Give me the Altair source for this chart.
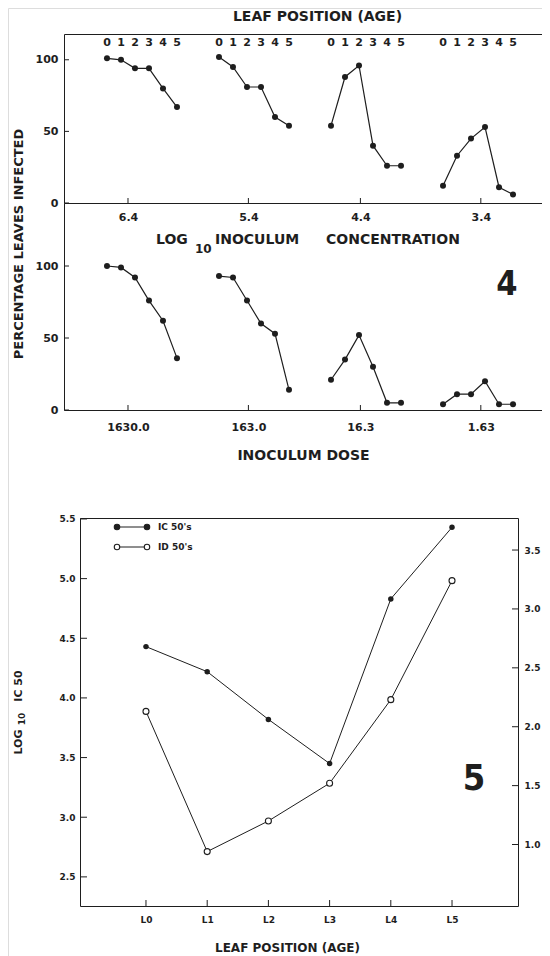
import json
import altair as alt
import pandas as pd

# ---------------- data ----------------
leaf = [0, 1, 2, 3, 4, 5]
conc_labels = ["6.4", "5.4", "4.4", "3.4"]
dose_labels = ["1630.0", "163.0", "16.3", "1.63"]
group_tick_pos = [1.5, 10.1, 18.1, 26.7]   # tick values on the leaf-slot axis
pct_ticks = [0, 50, 100]

# percentage leaves infected, per log10 inoculum concentration (rows) and leaf 0..5
pct_conc = [
    [101, 100, 94, 94, 80, 67],
    [102, 95, 81, 81, 60, 54],
    [54, 88, 96, 40, 26, 26],
    [12, 33, 45, 53, 11, 6],
]
# percentage leaves infected, per inoculum dose
pct_dose = [
    [100, 99, 92, 76, 62, 36],
    [93, 92, 76, 60, 53, 14],
    [21, 35, 52, 30, 5, 5],
    [4, 11, 11, 20, 4, 4],
]

age_labels = ["L0", "L1", "L2", "L3", "L4", "L5"]
ic50 = [4.43, 4.22, 3.82, 3.45, 4.83, 5.43]
id50 = [2.13, 0.94, 1.20, 1.52, 2.23, 3.24]
left_ticks = [2.5, 3.0, 3.5, 4.0, 4.5, 5.0, 5.5]
right_ticks = [1.0, 1.5, 2.0, 2.5, 3.0, 3.5]
legend_names = ["IC 50's", "ID 50's"]

# ---------------- layout ----------------
W, H = 534, 948
FONT = "DejaVu Sans"
INK = "#1e1e1e"
SLOTS = 8


def sc(domain, rng):
    return alt.Scale(domain=domain, range=rng, nice=False, zero=False)


def ax(**kw):
    base = dict(grid=False, ticks=False, domainColor=INK, domainWidth=1,
                labelFont=FONT, labelFontWeight="bold", labelColor=INK,
                titleFont=FONT, titleFontWeight="bold", titleColor=INK)
    base.update(kw)
    return alt.Axis(**base)


def panel_df(values, labels):
    rows = []
    for g, (lab, vals) in enumerate(zip(labels, values)):
        for i, v in zip(leaf, vals):
            rows.append({"group": lab, "g": g, "leaf": i, "pos": g * SLOTS + i, "pct": v})
    return pd.DataFrame(rows)


one = pd.DataFrame({"k": [0]})


def note(text, x, y, size, align="center", angle=0, font=FONT):
    return alt.Chart(one).mark_text(
        text=text, fontSize=size, font=font, fontWeight="bold", color=INK,
        align=align, baseline="middle", angle=angle
    ).encode(x=alt.value(x), y=alt.value(y))


# Figure 4 scales
X4 = sc([-3.07, 31.07], [56, W])
Y4T = sc([0, 118], [195, 26])
Y4B = sc([0, 143.75], [402, 195])

conc_df = panel_df(pct_conc, conc_labels)
dose_df = panel_df(pct_dose, dose_labels)
conc_expr = f"{json.dumps(conc_labels)}[indexof({json.dumps(group_tick_pos)}, datum.value)]"
dose_expr = f"{json.dumps(dose_labels)}[indexof({json.dumps(group_tick_pos)}, datum.value)]"

layers = []

# ---- Fig 4 top panel ----
layers.append(alt.Chart(conc_df).mark_line(color=INK, strokeWidth=1.2).encode(
    x=alt.X("pos:Q", scale=X4, axis=ax(orient="bottom", offset=-(H - 195), values=group_tick_pos,
                                       labelExpr=conc_expr, labelFontSize=11, labelPadding=8, title=None)),
    y=alt.Y("pct:Q", scale=Y4T, axis=ax(orient="left", offset=-56, values=pct_ticks, labelFontSize=11,
                                        labelPadding=6, title="PERCENTAGE LEAVES INFECTED", titleFontSize=13,
                                        titleX=-46, titleY=235.5, titleAngle=270, titleBaseline="middle",
                                        titleAlign="center")),
    detail="group:N",
))
layers.append(alt.Chart(conc_df).mark_circle(color=INK, size=36, opacity=1).encode(
    x=alt.X("pos:Q", scale=X4, axis=ax(orient="top", offset=-26, labels=False, title="LEAF POSITION (AGE)",
                                       titleFontSize=14, titleX=309, titleY=-18, titleBaseline="middle",
                                       titleAlign="center")),
    y=alt.Y("pct:Q", scale=Y4T, axis=None),
))
layers.append(alt.Chart(conc_df).mark_text(font=FONT, fontWeight="bold", fontSize=11, color=INK,
                                           baseline="middle").encode(
    x=alt.X("pos:Q", scale=X4, axis=None),
    y=alt.value(35),
    text="leaf:N",
))
tick_df = pd.DataFrame({"t": group_tick_pos})
layers.append(alt.Chart(tick_df).mark_rule(color=INK, strokeWidth=1).encode(
    x=alt.X("t:Q", scale=X4, axis=None), y=alt.value(195), y2=alt.value(190)))
layers.append(alt.Chart(tick_df).mark_rule(color=INK, strokeWidth=1).encode(
    x=alt.X("t:Q", scale=X4, axis=None), y=alt.value(402), y2=alt.value(397)))
pt_df = pd.DataFrame({"v": pct_ticks})
layers.append(alt.Chart(pt_df).mark_rule(color=INK, strokeWidth=1).encode(
    y=alt.Y("v:Q", scale=Y4T, axis=None), x=alt.value(56), x2=alt.value(61)))
layers.append(alt.Chart(pt_df).mark_rule(color=INK, strokeWidth=1).encode(
    y=alt.Y("v:Q", scale=Y4B, axis=None), x=alt.value(56), x2=alt.value(61)))

# ---- Fig 4 bottom panel ----
layers.append(alt.Chart(dose_df).mark_line(color=INK, strokeWidth=1.2).encode(
    x=alt.X("pos:Q", scale=X4, axis=ax(orient="bottom", offset=-(H - 402), values=group_tick_pos,
                                       labelExpr=dose_expr, labelFontSize=11, labelPadding=11,
                                       title="INOCULUM DOSE", titleFontSize=14, titleX=295, titleY=45,
                                       titleBaseline="middle", titleAlign="center")),
    y=alt.Y("pct:Q", scale=Y4B, axis=ax(orient="left", offset=-56, values=pct_ticks, labelFontSize=11,
                                        labelPadding=6, title=None)),
    detail="group:N",
))
layers.append(alt.Chart(dose_df).mark_circle(color=INK, size=36, opacity=1).encode(
    x=alt.X("pos:Q", scale=X4, axis=None),
    y=alt.Y("pct:Q", scale=Y4B, axis=None),
))

# middle title with subscript
layers.append(note("LOG", 148, 232, 14, align="left"))
layers.append(note("10", 187, 241, 12, align="left"))
layers.append(note("INOCULUM", 207, 232, 14, align="left"))
layers.append(note("CONCENTRATION", 318, 232, 14, align="left"))
layers.append(note("4", 499, 277, 34, font="DejaVu Sans Condensed, DejaVu Sans"))

# ---- Fig 5 ----
X5 = sc([-1.078, 6.078], [72, 510])
Y5L = sc([2.256, 5.508], [898, 510])
Y5R = sc([0.478, 3.772], [898, 510])
f5 = pd.DataFrame({"i": leaf, "age": age_labels, "ic": ic50, "id": id50})
age_expr = f"{json.dumps(age_labels)}[datum.value]"

layers.append(alt.Chart(f5).mark_line(color=INK, strokeWidth=1).encode(
    x=alt.X("i:Q", scale=X5, axis=ax(orient="bottom", offset=-(H - 898), values=leaf, labelExpr=age_expr,
                                     labelFontSize=9, labelPadding=9, title="LEAF POSITION (AGE)",
                                     titleFontSize=12, titleX=279, titleY=41, titleBaseline="middle",
                                     titleAlign="center")),
    y=alt.Y("ic:Q", scale=Y5L, axis=ax(orient="left", offset=-72, values=left_ticks, format=".1f",
                                       labelFontSize=9, labelPadding=5, title=None)),
))
layers.append(alt.Chart(f5).mark_circle(color=INK, size=30, opacity=1).encode(
    x=alt.X("i:Q", scale=X5, axis=ax(orient="top", offset=-510, labels=False, title=None)),
    y=alt.Y("ic:Q", scale=Y5L, axis=None),
))
layers.append(alt.Chart(f5).mark_line(color=INK, strokeWidth=1).encode(
    x=alt.X("i:Q", scale=X5, axis=None),
    y=alt.Y("id:Q", scale=Y5R, axis=ax(orient="right", offset=-(W - 510), values=right_ticks, format=".1f",
                                       labelFontSize=9, labelPadding=6, title=None)),
))
layers.append(alt.Chart(f5).mark_point(shape="circle", filled=True, fill="white", stroke=INK,
                                       strokeWidth=1.1, size=36, opacity=1).encode(
    x=alt.X("i:Q", scale=X5, axis=None),
    y=alt.Y("id:Q", scale=Y5R, axis=None),
))
layers.append(alt.Chart(f5).mark_rule(color=INK, strokeWidth=1).encode(
    x=alt.X("i:Q", scale=X5, axis=None), y=alt.value(898), y2=alt.value(892)))
layers.append(alt.Chart(pd.DataFrame({"v": left_ticks})).mark_rule(color=INK, strokeWidth=1).encode(
    y=alt.Y("v:Q", scale=Y5L, axis=None), x=alt.value(72), x2=alt.value(79)))
layers.append(alt.Chart(pd.DataFrame({"v": right_ticks})).mark_rule(color=INK, strokeWidth=1).encode(
    y=alt.Y("v:Q", scale=Y5R, axis=None), x=alt.value(510), x2=alt.value(504)))

# y title with subscript
layers.append(note("LOG", 11, 734, 11, angle=270))
layers.append(note("10", 13.5, 711, 9, angle=270))
layers.append(note("IC 50", 11, 678, 11, angle=270))
layers.append(note("5", 466, 771, 36, font="DejaVu Sans Condensed, DejaVu Sans"))

# legend
leg_pts = pd.DataFrame([{"name": n, "row": r, "end": e, "filled": r == 0}
                        for r, n in enumerate(legend_names) for e in (0, 1)])
LX = sc([0, 1], [109, 139])
LY = sc([0, 1], [519, 539])
layers.append(alt.Chart(leg_pts).mark_line(color=INK, strokeWidth=1).encode(
    x=alt.X("end:Q", scale=LX, axis=None), y=alt.Y("row:Q", scale=LY, axis=None), detail="name:N"))
layers.append(alt.Chart(leg_pts).mark_point(shape="circle", filled=True, stroke=INK, strokeWidth=1.1,
                                            size=30, opacity=1).encode(
    x=alt.X("end:Q", scale=LX, axis=None), y=alt.Y("row:Q", scale=LY, axis=None),
    fill=alt.condition("datum.filled", alt.value(INK), alt.value("white"))))
leg_txt = pd.DataFrame({"name": legend_names, "row": [0, 1]})
layers.append(alt.Chart(leg_txt).mark_text(font=FONT, fontWeight="bold", fontSize=9, color=INK,
                                           align="left", baseline="middle").encode(
    x=alt.value(150), y=alt.Y("row:Q", scale=LY, axis=None), text="name:N"))

chart = alt.layer(*layers).resolve_scale(x="independent", y="independent").properties(
    width=W, height=H, autosize=alt.AutoSizeParams(type="none"), padding=0
).configure_view(stroke=None).configure(background="white")

chart.save("out.html", embed_options={"renderer": "svg", "actions": False})
